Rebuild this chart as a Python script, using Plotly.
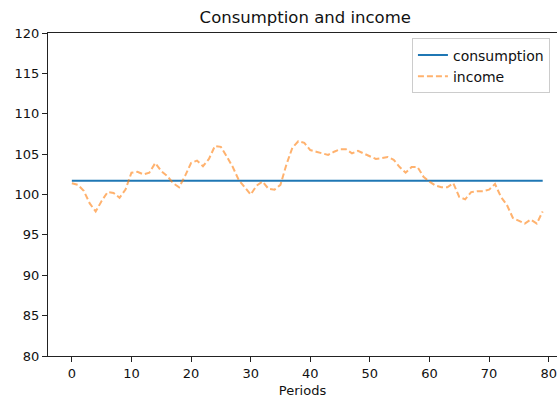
import plotly.graph_objects as go

periods = list(range(80))

consumption_level = 101.7
consumption = [consumption_level] * len(periods)

income = [
    101.4, 101.2, 100.45, 98.9, 97.9, 99.2, 100.3, 100.2, 99.6, 100.6,
    102.7, 102.8, 102.5, 102.7, 103.9, 102.9, 102.3, 101.4, 100.9, 102.3,
    103.9, 104.2, 103.5, 104.4, 106.0, 105.9, 104.7, 103.4, 101.8, 100.9,
    100.0, 101.1, 101.6, 100.7, 100.6, 101.2, 103.7, 105.8, 106.6, 106.4,
    105.5, 105.3, 105.1, 104.9, 105.3, 105.6, 105.6, 105.1, 105.4, 105.1,
    104.7, 104.4, 104.5, 104.65, 104.3, 103.4, 102.7, 103.4, 103.4, 102.2,
    101.6, 101.1, 100.9, 100.9, 101.4, 99.7, 99.4, 100.3, 100.4, 100.4,
    100.6, 101.3, 99.7, 98.7, 97.1, 96.7, 96.4, 96.9, 96.4, 97.9,
]

yticks = [80, 85, 90, 95, 100, 105, 110, 115, 120]
xticks = [0, 10, 20, 30, 40, 50, 60, 70, 80]

font = "DejaVu Sans"

fig = go.Figure()
fig.add_trace(go.Scatter(
    x=periods, y=consumption, mode="lines", name="consumption",
    line=dict(color="#1f77b4", width=2),
))
fig.add_trace(go.Scatter(
    x=periods, y=income, mode="lines", name="income",
    line=dict(color="#ff7f0e", width=2, dash="6px,3px"), opacity=0.6,
))

fig.update_layout(
    width=557, height=402,
    margin=dict(l=48, r=0, t=33, b=46),
    plot_bgcolor="white", paper_bgcolor="white",
    font=dict(family=font, size=13, color="#111"),
    title=dict(text="Consumption and income", x=0.548, xref="container",
               xanchor="center", y=0.957, yanchor="middle",
               font=dict(size=16.5, color="#111")),
    showlegend=True,
    legend=dict(x=0.715, y=0.983, xanchor="left", yanchor="top",
                bordercolor="#cccccc", borderwidth=1, bgcolor="white",
                font=dict(size=14), tracegroupgap=2),
    xaxis=dict(range=[-4.0, 81.4], tickvals=xticks, showgrid=False,
               zeroline=False, showline=True, linecolor="#222", linewidth=1,
               mirror=True, ticks="outside", ticklen=5, tickcolor="#222",
               title=dict(text="Periods", font=dict(size=13), standoff=6)),
    yaxis=dict(range=[80, 120], tickvals=yticks, showgrid=False,
               zeroline=False, showline=True, linecolor="#222", linewidth=1,
               ticks="outside", ticklen=5, tickcolor="#222"),
)

# drop the default page margin so the figure sits at the window's corner
fig.write_html("out.html", config={"displayModeBar": False},
               post_script="document.body.style.margin='0px';")
